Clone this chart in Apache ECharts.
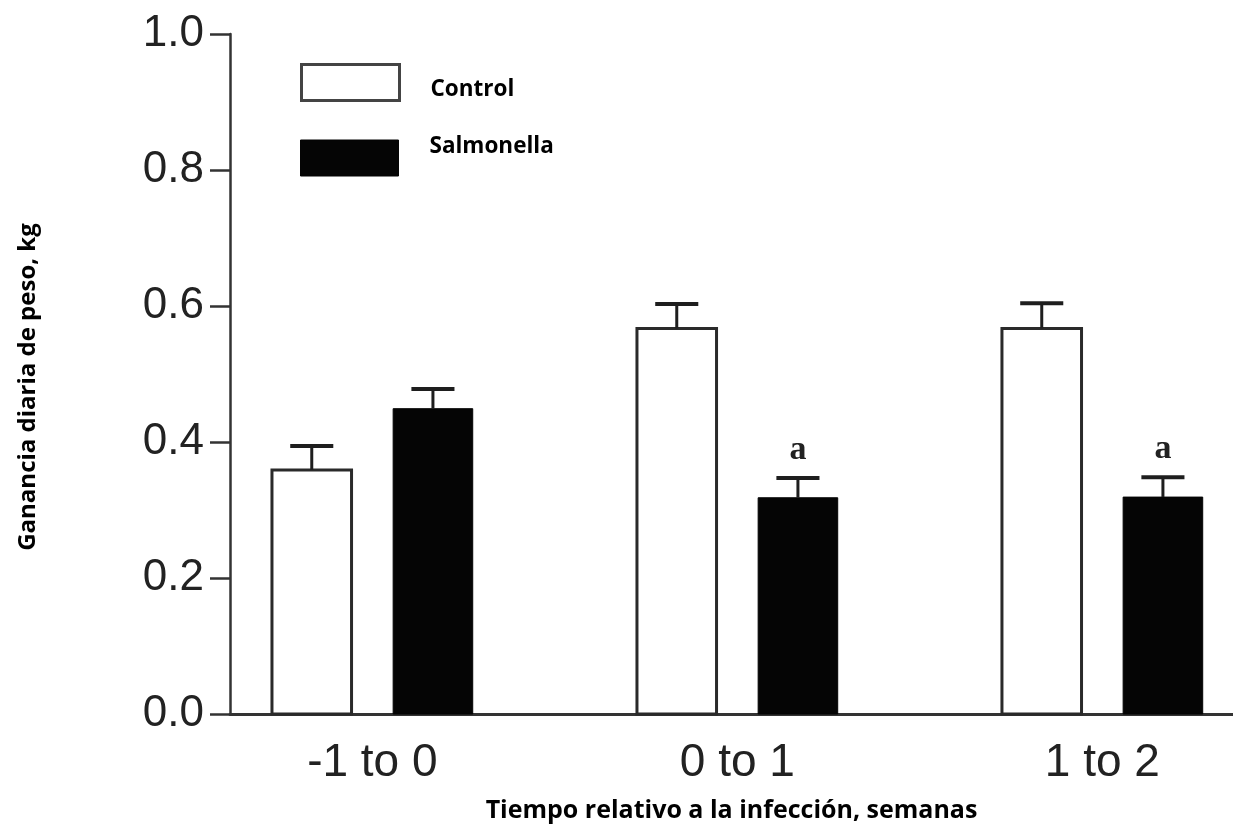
<!DOCTYPE html>
<html>
<head>
<meta charset="utf-8">
<title>Ganancia diaria de peso</title>
<script src="https://cdn.jsdelivr.net/npm/echarts@6.0.0/dist/echarts.min.js"></script>
<style>
  html, body { margin: 0; padding: 0; background: #ffffff; }
  #chart { width: 1233px; height: 828px; }
</style>
</head>
<body>
<div id="chart"></div>
<script>
// Periods relative to infection (weeks)
const categories = ['-1 to 0', '0 to 1', '1 to 2'];

// Mean daily weight gain, kg
const controlValues = [0.359, 0.567, 0.567];
const salmonellaValues = [0.449, 0.318, 0.319];

// Standard error (drawn upward only)
const controlSE = [0.035, 0.036, 0.037];
const salmonellaSE = [0.029, 0.029, 0.029];

// Significance marks above each Salmonella bar
const salmonellaMarks = ['', 'a', 'a'];

// Y-axis tick values
const yTicks = [0, 0.2, 0.4, 0.6, 0.8, 1.0];

// Bar geometry, expressed in category units of the x axis
const BAR_OFFSET = 0.166;
const BAR_WIDTH = 0.218;
const CAP_WIDTH = 0.118;

const chart = echarts.init(document.getElementById('chart'), null, { renderer: 'canvas' });

function toData(values, se) {
  return values.map((v, i) => [i, v, se[i]]);
}

function barRenderer(offset, fill, stroke, lineWidth) {
  return function (params, api) {
    const i = api.value(0);
    const v = api.value(1);
    const unit = api.size([1, 0])[0];
    const top = api.coord([i + offset, v]);
    const base = api.coord([i + offset, 0]);
    const w = BAR_WIDTH * unit;
    return {
      type: 'rect',
      shape: { x: top[0] - w / 2, y: top[1], width: w, height: base[1] - top[1] },
      style: { fill: fill, stroke: stroke, lineWidth: lineWidth }
    };
  };
}

function errorRenderer(offset, marks) {
  return function (params, api) {
    const i = api.value(0);
    const v = api.value(1);
    const e = api.value(2);
    const unit = api.size([1, 0])[0];
    const x = api.coord([i + offset, v])[0];
    const yTop = api.coord([i + offset, v])[1];
    const yErr = api.coord([i + offset, v + e])[1];
    const half = CAP_WIDTH * unit / 2;
    const children = [
      { type: 'line', shape: { x1: x, y1: yTop, x2: x, y2: yErr },
        style: { stroke: '#1e1e1e', lineWidth: 3 } },
      { type: 'line', shape: { x1: x - half, y1: yErr, x2: x + half, y2: yErr },
        style: { stroke: '#1e1e1e', lineWidth: 4 } }
    ];
    if (marks && marks[i]) {
      children.push({
        type: 'text',
        x: x,
        y: yErr - 28,
        style: {
          text: marks[i],
          fill: '#222',
          font: 'bold 34px "Liberation Serif", serif',
          align: 'center',
          verticalAlign: 'middle'
        }
      });
    }
    return { type: 'group', children: children };
  };
}

// Legend label: a spacer token sets the line height, the name token sits
// at its top or bottom so the label can ride above or below the swatch centre.
function legendBlock(name, top, itemStyle, lineH, align) {
  return {
    orient: 'vertical',
    left: 300,
    top: top,
    padding: 0,
    itemWidth: 98,
    itemHeight: 36,
    selectedMode: false,
    formatter: (n) => '{s|}{t|' + n + '}',
    textStyle: {
      color: '#000',
      rich: {
        s: { width: 26, height: lineH, lineHeight: lineH },
        t: {
          fontFamily: '"Open Sans", sans-serif',
          fontWeight: 'bold',
          fontSize: 22.5,
          lineHeight: 22,
          color: '#000',
          verticalAlign: align
        }
      }
    },
    data: [{ name: name, icon: 'rect', itemStyle: itemStyle }]
  };
}

const option = {
  backgroundColor: '#ffffff',
  animation: false,
  grid: { left: 230, right: 0, top: 34, bottom: 112, containLabel: false },
  legend: [
    legendBlock('Control', 63,
      { color: '#ffffff', borderColor: '#444', borderWidth: 3 }, 37, 'bottom'),
    legendBlock('Salmonella', 135.5,
      { color: '#050505', borderColor: '#050505', borderWidth: 1 }, 45, 'top')
  ],
  xAxis: {
    type: 'value',
    min: -0.39,
    max: 2.358,
    name: 'Tiempo relativo a la infección, semanas',
    nameLocation: 'middle',
    nameGap: 84,
    nameTextStyle: {
      fontFamily: '"Open Sans", sans-serif',
      fontWeight: 'bold',
      fontSize: 25,
      color: '#000'
    },
    axisLine: { show: true, onZero: false, lineStyle: { color: '#333', width: 3 } },
    axisTick: { show: false },
    splitLine: { show: false },
    axisLabel: {
      customValues: [0, 1, 2],
      formatter: (v) => categories[Math.round(v)],
      margin: 26,
      fontFamily: '"Liberation Sans", Arial, sans-serif',
      fontSize: 46,
      color: '#222'
    }
  },
  yAxis: {
    type: 'value',
    min: yTicks[0],
    max: yTicks[yTicks.length - 1],
    interval: 0.2,
    name: 'Ganancia diaria de peso, kg',
    nameLocation: 'middle',
    nameGap: 190,
    nameRotate: 90,
    nameTextStyle: {
      fontFamily: '"Open Sans", sans-serif',
      fontWeight: 'bold',
      fontSize: 24,
      color: '#000',
      padding: [0, 26, 0, 0]
    },
    axisLine: { show: true, onZero: false, lineStyle: { color: '#333', width: 2.5 } },
    axisTick: { show: true, length: 20, lineStyle: { color: '#333', width: 2.5 } },
    splitLine: { show: false },
    axisLabel: {
      margin: 26,
      formatter: (v) => v.toFixed(1),
      fontFamily: '"Liberation Sans", Arial, sans-serif',
      fontSize: 44,
      color: '#222'
    }
  },
  series: [
    {
      name: 'Control',
      type: 'custom',
      renderItem: barRenderer(-BAR_OFFSET, '#ffffff', '#2a2a2a', 3),
      itemStyle: { color: '#ffffff', borderColor: '#444' },
      data: toData(controlValues, controlSE),
      encode: { x: 0, y: 1 },
      z: 2
    },
    {
      name: 'Salmonella',
      type: 'custom',
      renderItem: barRenderer(BAR_OFFSET, '#050505', '#050505', 1),
      itemStyle: { color: '#050505' },
      data: toData(salmonellaValues, salmonellaSE),
      encode: { x: 0, y: 1 },
      z: 2
    },
    {
      name: 'Control SE',
      type: 'custom',
      renderItem: errorRenderer(-BAR_OFFSET, null),
      data: toData(controlValues, controlSE),
      encode: { x: 0, y: [1, 2] },
      z: 3
    },
    {
      name: 'Salmonella SE',
      type: 'custom',
      renderItem: errorRenderer(BAR_OFFSET, salmonellaMarks),
      data: toData(salmonellaValues, salmonellaSE),
      encode: { x: 0, y: [1, 2] },
      z: 3
    }
  ]
};

chart.setOption(option);
</script>
</body>
</html>
